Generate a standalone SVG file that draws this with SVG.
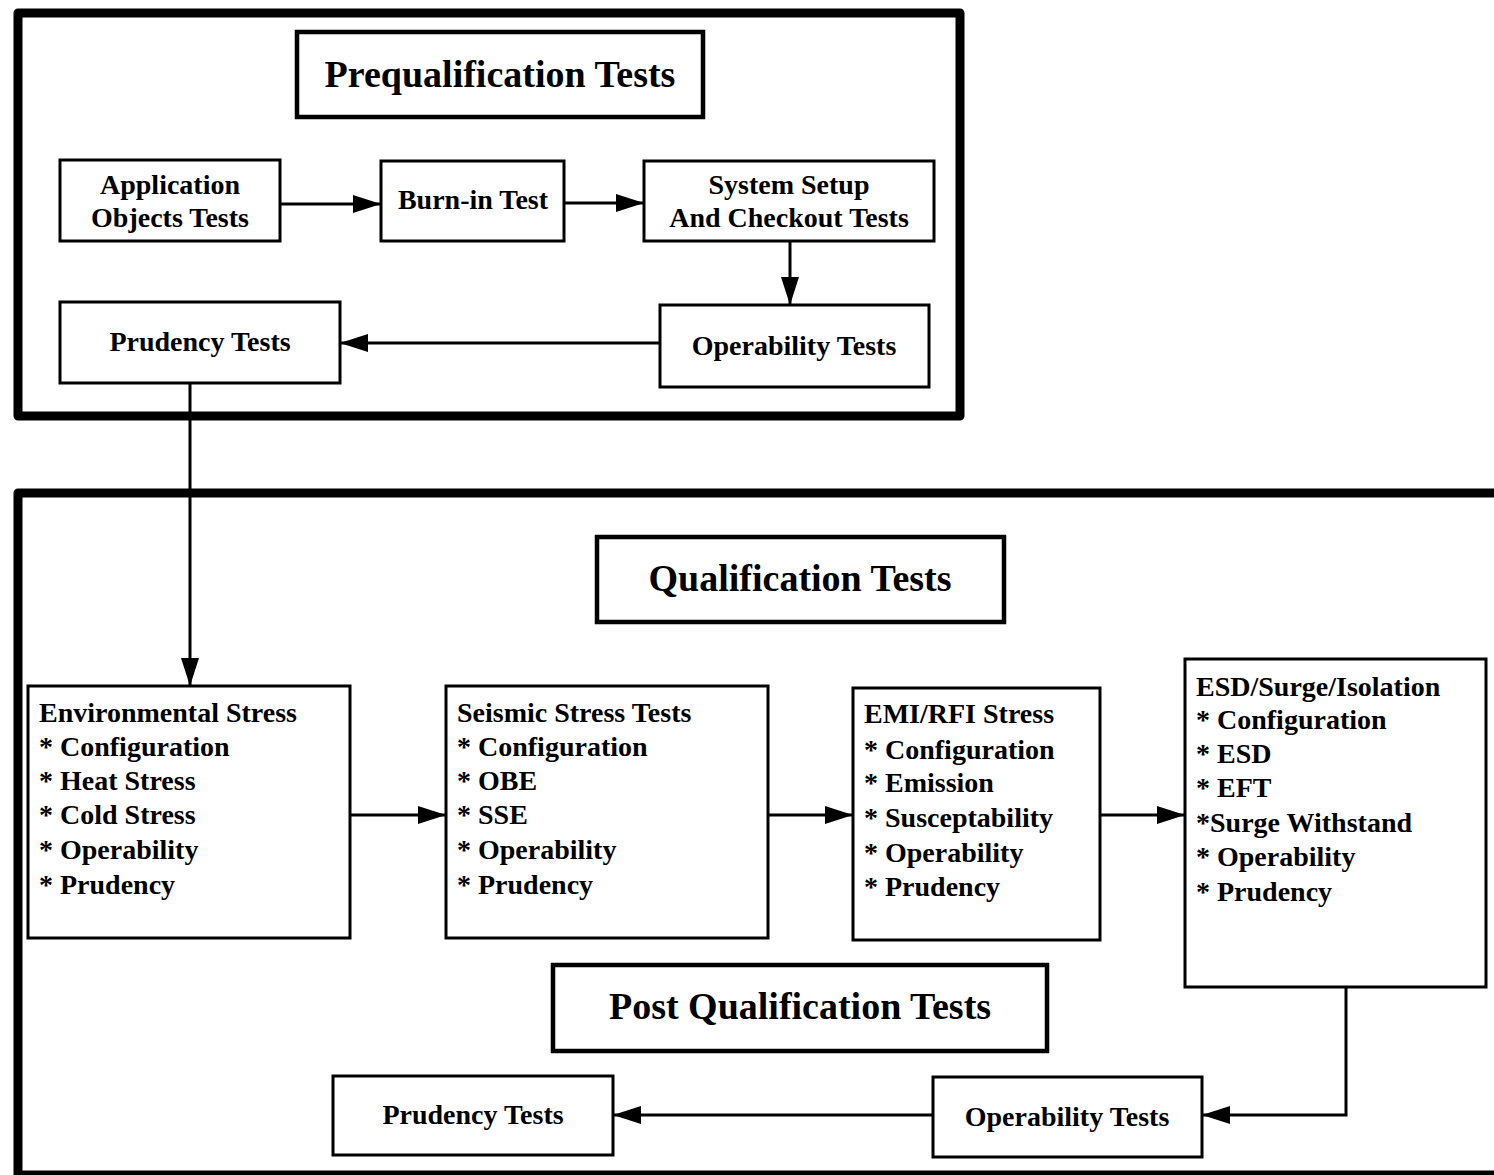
<svg xmlns="http://www.w3.org/2000/svg" width="1494" height="1175" viewBox="0 0 1494 1175">
<style>
.outer{fill:none;stroke:#000;stroke-width:9;stroke-linejoin:round}
.title{fill:#fff;stroke:#000;stroke-width:4.5}
.node{fill:#fff;stroke:#000;stroke-width:3}
.tt{font-family:"Liberation Serif","Times New Roman",serif;font-weight:bold;font-size:38px;fill:#000;text-anchor:middle}
.t{font-family:"Liberation Serif","Times New Roman",serif;font-weight:bold;font-size:28px;fill:#000}
.c{text-anchor:middle}
.conn{fill:none;stroke:#000;stroke-width:3}
</style>
<defs>
<marker id="arr" viewBox="0 0 28 18" refX="28" refY="9" markerWidth="28" markerHeight="18" markerUnits="userSpaceOnUse" orient="auto">
<path d="M0,0 L28,9 L0,18 Z" fill="#000"/>
</marker>
</defs>
<rect width="1494" height="1175" fill="#fff"/>
<g id="prequal-frame"><rect class="outer" x="18" y="13" width="942" height="403"/></g>
<g id="qual-frame"><rect class="outer" x="18" y="493" width="1510" height="682"/></g>
<g id="connectors">
<path class="conn" d="M280,204 L381,204" marker-end="url(#arr)"/>
<path class="conn" d="M564,203 L644,203" marker-end="url(#arr)"/>
<path class="conn" d="M790,241 L790,305" marker-end="url(#arr)"/>
<path class="conn" d="M660,343 L340,343" marker-end="url(#arr)"/>
<path class="conn" d="M190,383 L190,686" marker-end="url(#arr)"/>
<path class="conn" d="M350,815 L446,815" marker-end="url(#arr)"/>
<path class="conn" d="M768,815 L853,815" marker-end="url(#arr)"/>
<path class="conn" d="M1100,815 L1185,815" marker-end="url(#arr)"/>
<path class="conn" d="M1346,987 L1346,1115 L1202,1115" marker-end="url(#arr)"/>
<path class="conn" d="M933,1115 L613,1115" marker-end="url(#arr)"/>
</g>
<g id="prequal-title"><rect class="title" x="297" y="32" width="406" height="85"/><text class="tt" x="500" y="87">Prequalification Tests</text></g>
<g id="app-objects"><rect class="node" x="60" y="160" width="220" height="81"/><text class="t c" x="170" y="194">Application</text><text class="t c" x="170" y="227">Objects Tests</text></g>
<g id="burn-in"><rect class="node" x="381" y="161" width="183" height="80"/><text class="t c" x="473" y="209">Burn-in Test</text></g>
<g id="system-setup"><rect class="node" x="644" y="161" width="290" height="80"/><text class="t c" x="789" y="194">System Setup</text><text class="t c" x="789" y="227">And Checkout Tests</text></g>
<g id="operability-pre"><rect class="node" x="660" y="305" width="269" height="82"/><text class="t c" x="794" y="355">Operability Tests</text></g>
<g id="prudency-pre"><rect class="node" x="60" y="302" width="280" height="81"/><text class="t c" x="200" y="351">Prudency Tests</text></g>
<g id="qual-title"><rect class="title" x="597" y="537" width="407" height="85"/><text class="tt" x="800" y="591">Qualification Tests</text></g>
<g id="environmental"><rect class="node" x="28" y="686" width="322" height="252"/>
<text class="t" x="39" y="722">Environmental Stress</text><text class="t" x="39" y="756">* Configuration</text><text class="t" x="39" y="790">* Heat Stress</text><text class="t" x="39" y="824">* Cold Stress</text><text class="t" x="39" y="859">* Operability</text><text class="t" x="39" y="894">* Prudency</text></g>
<g id="seismic"><rect class="node" x="446" y="686" width="322" height="252"/>
<text class="t" x="457" y="722">Seismic Stress Tests</text><text class="t" x="457" y="756">* Configuration</text><text class="t" x="457" y="790">* OBE</text><text class="t" x="457" y="824">* SSE</text><text class="t" x="457" y="859">* Operability</text><text class="t" x="457" y="894">* Prudency</text></g>
<g id="emi-rfi"><rect class="node" x="853" y="688" width="247" height="252"/>
<text class="t" x="864" y="723">EMI/RFI Stress</text><text class="t" x="864" y="759">* Configuration</text><text class="t" x="864" y="792">* Emission</text><text class="t" x="864" y="827">* Susceptability</text><text class="t" x="864" y="862">* Operability</text><text class="t" x="864" y="896">* Prudency</text></g>
<g id="esd-surge"><rect class="node" x="1185" y="659" width="301" height="328"/>
<text class="t" x="1196" y="696">ESD/Surge/Isolation</text><text class="t" x="1196" y="729">* Configuration</text><text class="t" x="1196" y="763">* ESD</text><text class="t" x="1196" y="797">* EFT</text><text class="t" x="1196" y="832">*Surge Withstand</text><text class="t" x="1196" y="866">* Operability</text><text class="t" x="1196" y="901">* Prudency</text></g>
<g id="post-qual-title"><rect class="title" x="553" y="965" width="494" height="86"/><text class="tt" x="800" y="1019">Post Qualification Tests</text></g>
<g id="operability-post"><rect class="node" x="933" y="1077" width="269" height="80"/><text class="t c" x="1067" y="1126">Operability Tests</text></g>
<g id="prudency-post"><rect class="node" x="333" y="1076" width="280" height="79"/><text class="t c" x="473" y="1124">Prudency Tests</text></g>
</svg>
